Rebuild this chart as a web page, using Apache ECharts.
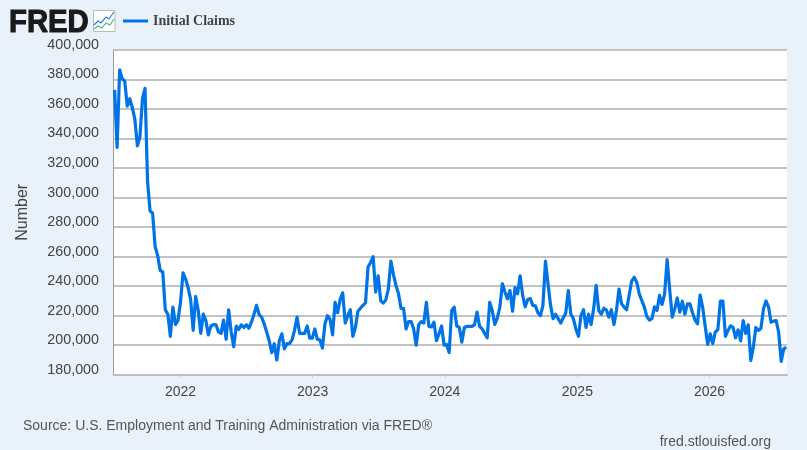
<!DOCTYPE html>
<html>
<head>
<meta charset="utf-8">
<style>html,body{margin:0;padding:0;background:#e9f1fa}#c{width:807px;height:450px}</style>
<script src="https://cdn.jsdelivr.net/npm/echarts@6/dist/echarts.min.js"></script>
</head>
<body>
<div id="c"></div>
<script>
const seriesName = 'Initial Claims';
const firstWeek = [2021, 6, 3];
const claimsThousands = [
373,334,386.5,380.5,379,362,367,361,353,335,341,367,374,311,291,289.4,266.8,260.8,250.6,249.7,
224,221,206,225.8,214,216.7,229,249,245,239,231,210,233,223.5,208,221,216.7,207,213,214,
213.8,209,208,217,204,224,209,199,213,210.6,213.8,212,213.8,211.5,215.6,221,227,220.8,219,214.5,
209,203,195,201,190,203,207.7,197.5,201,201,203.6,210,219,208,208,208,213,204.7,204.7,211,
204,203.6,198,214.5,220,217.5,207,229,222,231,235.5,215,220,224,206,212,223,225,227,228.7,
253,256,260,236,247,230,228.5,230.7,238,257,248,240.5,235,225,225,211,216,216,211,200,
214,216,215,229,212.7,212.4,215.6,203,207.7,213,200,200.5,195,223.5,225.8,213,212,202,212,212.7,
212.7,212.7,213.8,222.4,212.7,211,208,205,229,223.5,214,218.5,225.8,241.6,236,231.4,237,223,239,234.8,
247,233.7,226,231,231.6,227,226.7,222,220,227,257,241.6,227,218,221,218,215,218.5,221.7,237,
221,218,211,206,220,224,212,221,214,224.6,240.5,223.5,221,225,224,219,224,214,223.5,238,
228,225.8,224,233.7,243.4,246,242.7,234.8,230.3,225.8,219.4,217,218,226,223.5,233.7,227.6,234.8,258,238,
219,224.6,232,222.4,229.8,221,228,228,222,217,214.5,234,225.8,213,200.5,207.7,201,209,210.4,229.8,
229.8,206,210,213,212,205,210.4,203,216.7,208,213.8,189.6,198.6,212,210,211.5,224.6,230,226,215.6,
216.3,216.7,208.8,189,197.5,198.6
];
const yMin = 180000, yMax = 400000, yStep = 20000;
const yearTicks = [2022, 2023, 2024, 2025, 2026];
const sourceText = 'Source: U.S. Employment and Training Administration via FRED®';
const siteText = 'fred.stlouisfed.org';

const WEEK = 7 * 864e5;
const start = Date.UTC(firstWeek[0], firstWeek[1], firstWeek[2]);
const points = claimsThousands.map((v, i) => [start + i * WEEK, v * 1000]);
const yearStamps = yearTicks.map(y => Date.UTC(y, 0, 1));
const sans = '"Liberation Sans", Arial, sans-serif';

const chart = echarts.init(document.getElementById('c'), null, {renderer: 'canvas'});
chart.setOption({
  animation: false,
  backgroundColor: '#e9f1fa',
  grid: {left: 113.5, right: 20, top: 50, bottom: 75.3, show: true, backgroundColor: '#fff', borderWidth: 0},
  legend: {
    show: true, left: 123, top: 14, padding: 0,
    icon: 'rect', itemWidth: 25, itemHeight: 3, itemGap: 5,
    textStyle: {fontFamily: '"Liberation Serif", serif', fontWeight: 'bold', fontSize: 14, color: '#444'},
    data: [seriesName]
  },
  xAxis: {
    type: 'value',
    min: Date.UTC(2021, 5, 30), max: Date.UTC(2026, 7, 3),
    scale: true,
    axisLine: {show: true, onZero: false, lineStyle: {color: '#bdbdbd', width: 2}},
    axisTick: {show: true, length: 3, customValues: yearStamps, lineStyle: {color: '#c4d4e6', width: 1}},
    splitLine: {show: false},
    axisLabel: {
      customValues: yearStamps, margin: 10, color: '#444', fontFamily: sans, fontSize: 14,
      hideOverlap: false, formatter: v => String(new Date(v).getUTCFullYear())
    }
  },
  yAxis: {
    type: 'value', min: yMin, max: yMax, interval: yStep,
    name: 'Number', nameLocation: 'middle', nameGap: 83, nameRotate: 90,
    nameTextStyle: {color: '#444', fontFamily: sans, fontSize: 16},
    axisLine: {show: true, lineStyle: {color: '#999', width: 1}},
    axisTick: {show: false},
    splitLine: {show: true, lineStyle: {color: '#c2c2c2', width: 2}},
    axisLabel: {
      margin: 14.5, color: '#444', fontFamily: sans, fontSize: 14.3, verticalAlign: 'bottom', lineHeight: 10,
      formatter: v => v.toLocaleString('en-US')
    }
  },
  series: [{
    name: seriesName, type: 'line', data: points,
    showSymbol: false, smooth: false,
    lineStyle: {color: '#0073e6', width: 3.2, join: 'round'},
    itemStyle: {color: '#0073e6'},
    clip: true, z: 5
  }],
  graphic: [
    {type: 'text', left: 23, top: 419, style: {text: sourceText, fill: '#555', font: '14px ' + sans}},
    {type: 'text', right: 36, top: 435, style: {text: siteText, fill: '#555', font: '14px ' + sans}},
    {type: 'text', x: 9, y: 7.5, scaleX: 0.945, style: {text: 'FRED', fill: '#1a1a1a', stroke: '#1a1a1a', lineWidth: 1.1, font: 'bold 31px ' + sans}},
    {type: 'rect', shape: {x: 93.5, y: 10.5, width: 21.5, height: 21}, style: {fill: '#fff', stroke: '#bbb', lineWidth: 1}},
    {type: 'polyline', shape: {points: [[94,25],[98,21],[101,23],[106,17],[109,19],[114,12]]}, style: {fill: 'none', stroke: '#2a7de1', lineWidth: 1.2}},
    {type: 'polyline', shape: {points: [[94,29],[98,26],[102,28],[106,23],[110,25],[114,19]]}, style: {fill: 'none', stroke: '#4fb39a', lineWidth: 1.2}}
  ]
});
</script>
</body>
</html>
